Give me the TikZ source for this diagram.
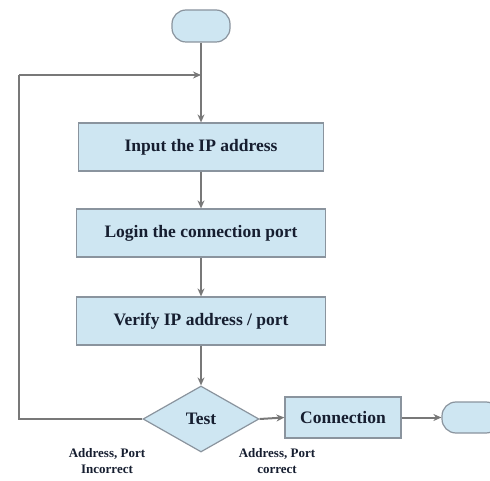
\documentclass[tikz,border=0pt]{standalone}
\usepackage{fontspec}
\setmainfont{Liberation Serif}
\usetikzlibrary{shapes.geometric,arrows.meta}
\definecolor{boxfill}{RGB}{206,230,242}
\definecolor{boxline}{RGB}{138,148,158}
\definecolor{conn}{RGB}{120,120,120}
\definecolor{txt}{RGB}{22,30,48}
\tikzset{
  x=1pt,y=1pt,
  procbox/.style={draw=boxline,line width=1.2pt,fill=boxfill,rectangle,inner sep=0pt,
    font=\fontsize{17.5}{19}\selectfont\bfseries,text=txt},
  termbox/.style={draw=boxline,line width=1.2pt,fill=boxfill,rectangle,rounded corners=14pt,inner sep=0pt},
  testbox/.style={draw=boxline,line width=1.2pt,fill=boxfill,diamond,aspect=1.76,inner sep=0pt,
    minimum width=116pt,minimum height=66pt,font=\fontsize{17.5}{19}\selectfont\bfseries,text=txt},
  lbl/.style={align=center,font=\fontsize{13}{15.5}\selectfont\bfseries,text=txt},
  flow/.style={draw=conn,line width=2pt,-{Stealth[length=8pt,width=7pt]}},
  plain/.style={draw=conn,line width=2pt}
}
\begin{document}
\begin{tikzpicture}
\clip (0,0) rectangle (490,-481);
\fill[white] (0,0) rectangle (490,-481);
\node[termbox,minimum width=58pt,minimum height=32pt] (start) at (201,-26) {};
\node[procbox,minimum width=245pt,minimum height=48pt] (b1) at (201,-147) {Input the IP address};
\node[procbox,minimum width=249pt,minimum height=48pt] (b2) at (201,-233) {Login the connection port};
\node[procbox,minimum width=249pt,minimum height=48pt] (b3) at (201,-321) {Verify IP address / port};
\node[testbox] (test) at (201,-419) {Test};
\node[procbox,minimum width=116pt,minimum height=41pt] (conn) at (343,-417.5) {Connection};
\node[termbox,minimum width=58pt,minimum height=31pt] (end) at (471,-417.5) {};
\node[lbl] (l1) at (107,-461) {Address, Port\\Incorrect};
\node[lbl] (l2) at (277,-461) {Address, Port\\correct};
\coordinate (merge) at (201,-75);
\coordinate (lb) at (19,-419);
\coordinate (lt) at (19,-75);
\draw[flow] (start.south) -- (b1.north);
\draw[flow] (b1.south) -- (b2.north);
\draw[flow] (b2.south) -- (b3.north);
\draw[flow] (b3.south) -- (test.north);
\draw[flow] (test.east) -- (conn.west);
\draw[flow] (conn.east) -- (end.west);
\draw[plain] (test.west) -- (lb) -- (lt);
\draw[flow] (lt) -- (merge);
\end{tikzpicture}
\end{document}
